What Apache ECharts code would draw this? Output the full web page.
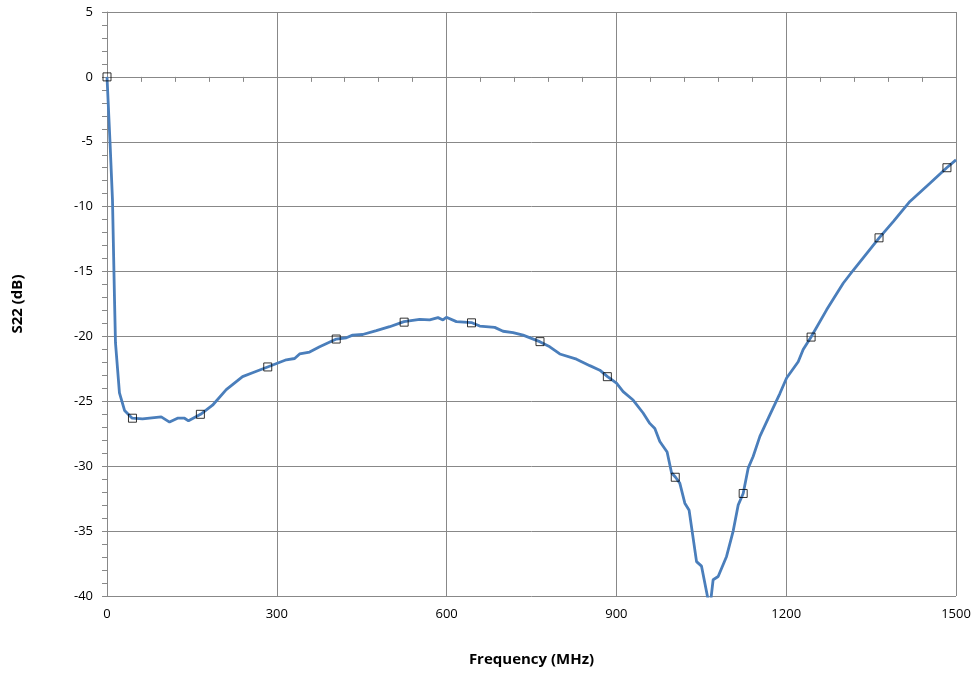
<!DOCTYPE html>
<html>
<head>
<meta charset="utf-8">
<script src="https://cdn.jsdelivr.net/npm/echarts@6/dist/echarts.min.js"></script>
<style>html,body{margin:0;padding:0;background:#fff}#c{width:980px;height:673px}</style>
</head>
<body>
<div id="c"></div>
<script>
// Frequency (MHz) of traced curve points
const freq = [0,5.3,9.7,13.3,15,22,31,44.5,62.8,95.8,110.5,124.6,137,144,165.3,186.5,210.7,239.5,257.2,283.7,316.8,331.5,340.3,358,375.7,405.2,422.9,434,451.7,475.9,499.4,524.7,552.4,570.1,584.8,593.6,599.6,617.3,643.8,658.5,685,699.7,717.4,735.1,764.6,782.3,800,829.5,853,870.7,884.3,900.2,911.9,929.5,947.2,959,967.9,976.7,989.6,997.4,1004.5,1012,1020.9,1028.5,1041.6,1050.4,1061,1065,1070.9,1079.8,1094.6,1106.3,1115.1,1124,1132.8,1141.6,1153.5,1171.1,1188.8,1200.7,1221.2,1230,1243.7,1271.4,1300.7,1318.4,1363.9,1389.1,1418.6,1454,1483.6,1500];
// S22 (dB) of traced curve points
const s22 = [0,-5,-9.5,-17.2,-20.5,-24.35,-25.7,-26.3,-26.35,-26.2,-26.6,-26.3,-26.3,-26.5,-26.0,-25.3,-24.1,-23.1,-22.8,-22.35,-21.8,-21.7,-21.35,-21.2,-20.8,-20.2,-20.1,-19.9,-19.85,-19.55,-19.25,-18.86,-18.68,-18.73,-18.55,-18.73,-18.52,-18.86,-18.93,-19.2,-19.3,-19.6,-19.7,-19.9,-20.4,-20.8,-21.35,-21.75,-22.25,-22.6,-23.1,-23.6,-24.25,-24.9,-25.9,-26.7,-27.1,-28.1,-28.9,-30.5,-30.85,-31.3,-32.85,-33.4,-37.35,-37.7,-40.05,-41,-38.75,-38.5,-36.95,-35.0,-33.0,-32.1,-30.15,-29.25,-27.7,-26.05,-24.4,-23.2,-21.95,-21.0,-20.06,-17.95,-15.9,-14.9,-12.43,-11.15,-9.6,-8.2,-7.0,-6.4];
// Marker positions
const markerFreq = [0,45,165,284,405,525,644,765,884,1004,1124,1244,1364,1484];
const markerS22 = [0,-26.3,-26.0,-22.35,-20.2,-18.9,-18.95,-20.4,-23.1,-30.85,-32.1,-20.05,-12.4,-7.0];
// Axis ticks
const xMin = 0, xMax = 1500, xStep = 300;
const yMin = -40, yMax = 5, yStep = 5;

const lineData = freq.map((f,i)=>[f,s22[i]]);
const markData = markerFreq.map((f,i)=>[f,markerS22[i]]);
const font = '"Open Sans","Noto Sans",sans-serif';
const chart = echarts.init(document.getElementById('c'));
chart.setOption({
  animation:false,
  backgroundColor:'#fff',
  grid:{left:107,right:24,top:12,bottom:77,containLabel:false},
  xAxis:{type:'value',min:xMin,max:xMax,interval:xStep,
    name:'Frequency (MHz)',nameLocation:'middle',nameGap:56,
    nameTextStyle:{fontFamily:font,fontSize:15,fontWeight:'bold',color:'#000'},
    axisLine:{lineStyle:{color:'#888',width:1}},
    axisTick:{show:true,inside:false,length:5,lineStyle:{color:'#888'}},
    minorTick:{show:true,splitNumber:5,length:5,lineStyle:{color:'#888'}},
    axisLabel:{fontFamily:font,fontSize:13,color:'#000',margin:12,formatter:v=>String(v)},
    splitLine:{show:true,lineStyle:{color:'#888',width:1}}},
  yAxis:{type:'value',min:yMin,max:yMax,interval:yStep,
    name:'S22 (dB)',nameLocation:'middle',nameGap:82,nameRotate:90,
    nameTextStyle:{fontFamily:font,fontSize:15,fontWeight:'bold',color:'#000'},
    axisLine:{show:true,lineStyle:{color:'#888',width:1}},
    axisTick:{show:true,inside:false,length:5,lineStyle:{color:'#888'}},
    minorTick:{show:true,splitNumber:5,length:5,lineStyle:{color:'#888'}},
    axisLabel:{fontFamily:font,fontSize:13,color:'#000',margin:14,formatter:v=>String(v)},
    splitLine:{show:true,lineStyle:{color:'#888',width:1}}},
  series:[
    {type:'line',data:lineData,showSymbol:false,smooth:false,clip:true,
     lineStyle:{color:'#4a7ebb',width:2.8},z:2},
    {type:'scatter',data:markData,symbol:'rect',symbolSize:8,
     itemStyle:{color:'rgba(255,255,255,0)',borderColor:'#000',borderWidth:1},z:3}
  ]
});
</script>
</body>
</html>
